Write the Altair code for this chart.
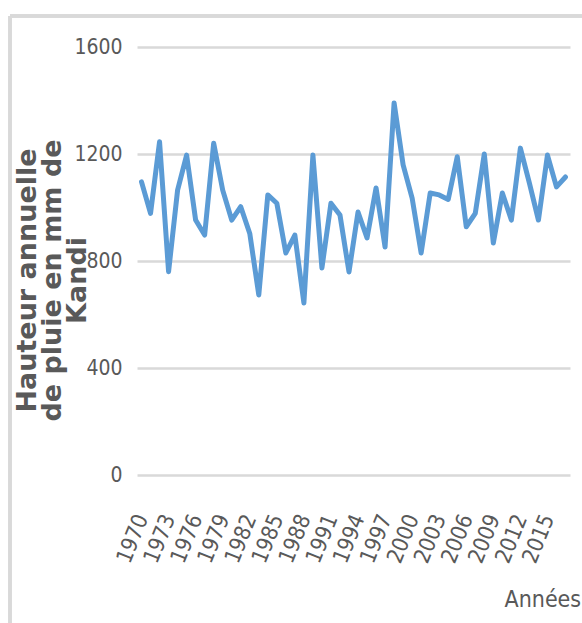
import altair as alt
import pandas as pd

# Annual rainfall at Kandi, 1970-2017 (mm)
years = list(range(1970, 2018))
rainfall = [1096, 978, 1246, 760, 1065, 1196, 953, 897, 1240, 1065,
            953, 1003, 903, 673, 1047, 1016, 830, 897, 643, 1196,
            774, 1016, 972, 759, 983, 886, 1073, 852, 1391, 1159,
            1035, 830, 1054, 1047, 1030, 1190, 928, 978, 1200, 867,
            1054, 953, 1222, 1091, 953, 1196, 1077, 1114]
year_ticks = list(range(1970, 2016, 3))
y_ticks = [0, 400, 800, 1200, 1600]

df = pd.DataFrame({"annee": years, "pluie": rainfall})

W, H = 433, 428
PAD = {"left": 137, "top": 47, "right": 12, "bottom": 148}
narrow = "DejaVu Sans Condensed, Liberation Sans Narrow, sans-serif"
grey = "#595959"

line = alt.Chart(df).mark_line(color="#5b9bd5", strokeWidth=5,
                               strokeJoin="round", strokeCap="round").encode(
    x=alt.X("annee:O",
            scale=alt.Scale(type="point", padding=0.5),
            axis=alt.Axis(values=year_ticks, labelAngle=-68, labelFont=narrow,
                          labelFontSize=22, labelColor=grey, labelPadding=40,
                          ticks=False, domain=False, grid=False,
                          title="Années", titleFont=narrow, titleFontSize=23,
                          titleFontWeight="normal", titleColor=grey,
                          titleX=367, titleY=131, titleAlign="left",
                          titleBaseline="alphabetic")),
    y=alt.Y("pluie:Q",
            scale=alt.Scale(domain=[0, 1600], nice=False),
            axis=alt.Axis(values=y_ticks, format="d", labelFont=narrow,
                          labelFontSize=21, labelColor=grey, labelPadding=15,
                          ticks=False, domain=False, grid=True,
                          gridColor="#d9d9d9", gridWidth=2.5,
                          title=["Hauteur annuelle", "de pluie en mm de", "Kandi"],
                          titleFont="DejaVu Sans", titleFontSize=27,
                          titleFontWeight="bold", titleColor=grey,
                          titleLineHeight=25, titleAngle=-90,
                          titleX=-110, titleY=233, titleAlign="center",
                          titleBaseline="middle")),
)

# Outer chart frame (top and left edges)
frame_top = alt.Chart(df).mark_rule(color="#d9d9d9", strokeWidth=3).encode(
    x=alt.value(-127), x2=alt.value(582 - 137), y=alt.value(-31))
frame_left = alt.Chart(df).mark_rule(color="#d9d9d9", strokeWidth=3).encode(
    x=alt.value(-127), y=alt.value(-31), y2=alt.value(623 - 47))

chart = alt.layer(frame_top, frame_left, line).properties(
    width=W, height=H, padding=PAD,
    autosize=alt.AutoSizeParams(type="none"),
    background="white",
).configure_view(stroke=None)

chart.save("out.html", embed_options={"renderer": "svg", "actions": False})
